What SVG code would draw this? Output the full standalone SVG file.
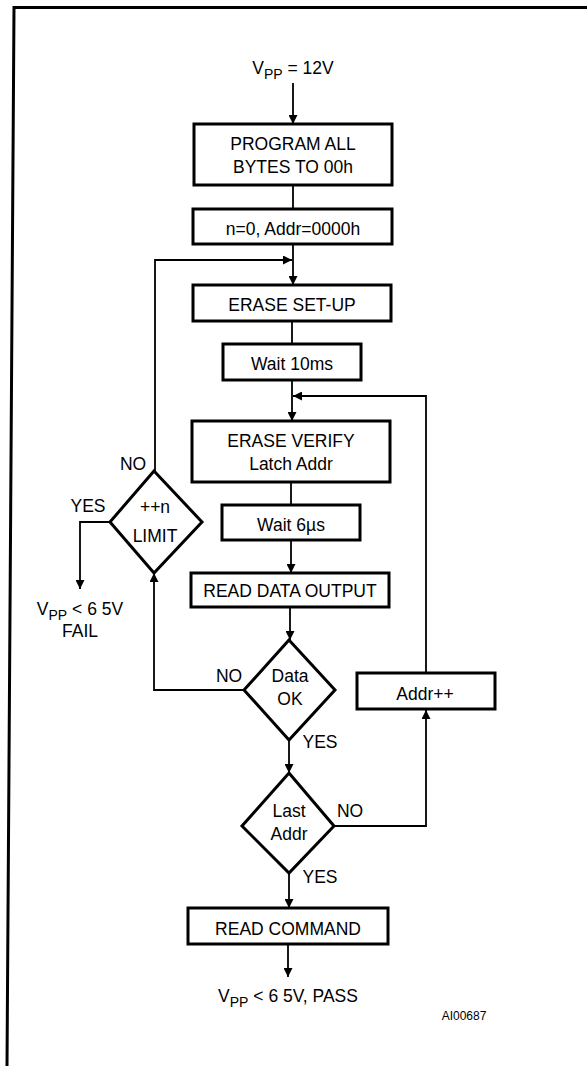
<svg xmlns="http://www.w3.org/2000/svg" width="587" height="1066" viewBox="0 0 587 1066">
<style>
.box{fill:#fff;stroke:#000;stroke-width:3}
.dia{fill:#fff;stroke:#000;stroke-width:3;stroke-linejoin:miter}
.ln{fill:none;stroke:#000;stroke-width:1.8}
text{font-family:"Liberation Sans",Arial,sans-serif;font-size:17.5px;fill:#000}
.c{text-anchor:middle}
.sub{font-size:14px}
.sm{font-size:12px}
</style>
<defs>
<marker id="ah" viewBox="0 0 10 10" refX="10" refY="5" markerWidth="11" markerHeight="9" markerUnits="userSpaceOnUse" orient="auto">
<path d="M0,0 L10,5 L0,10 Z" fill="#000"/>
</marker>
</defs>
<rect width="587" height="1066" fill="#fff"/>
<path d="M587,7.5 L14,7.5 L7,1066" fill="none" stroke="#000" stroke-width="3"/>

<g id="connectors">
<line class="ln" x1="293" y1="83" x2="293" y2="124" marker-end="url(#ah)"/>
<line class="ln" x1="293" y1="185" x2="293" y2="209"/>
<line class="ln" x1="293" y1="244" x2="293" y2="285" marker-end="url(#ah)"/>
<polyline class="ln" points="155,471 155,260 292,260" marker-end="url(#ah)"/>
<line class="ln" x1="292" y1="321" x2="292" y2="344"/>
<line class="ln" x1="292" y1="380" x2="292" y2="421" marker-end="url(#ah)"/>
<polyline class="ln" points="426,673 426,396 293,396" marker-end="url(#ah)"/>
<line class="ln" x1="291" y1="482" x2="291" y2="505"/>
<line class="ln" x1="291" y1="540" x2="291" y2="573" marker-end="url(#ah)"/>
<polyline class="ln" points="110,522 80,522 80,589" marker-end="url(#ah)"/>
<line class="ln" x1="290" y1="607" x2="290" y2="640" marker-end="url(#ah)"/>
<polyline class="ln" points="244,690 154,690 154,573" marker-end="url(#ah)"/>
<line class="ln" x1="289" y1="740" x2="289" y2="773" marker-end="url(#ah)"/>
<polyline class="ln" points="334,826 426,826 426,710" marker-end="url(#ah)"/>
<line class="ln" x1="289" y1="873" x2="289" y2="908" marker-end="url(#ah)"/>
<line class="ln" x1="288" y1="944" x2="288" y2="977" marker-end="url(#ah)"/>
</g>

<g id="start">
<text x="293" y="74" class="c">V<tspan class="sub" dy="5">PP</tspan><tspan dy="-5"> = 12V</tspan></text>
</g>

<g id="program-all">
<rect class="box" x="194" y="124" width="198" height="61"/>
<text x="293" y="150" class="c">PROGRAM ALL</text>
<text x="293" y="173" class="c">BYTES TO 00h</text>
</g>

<g id="init">
<rect class="box" x="193" y="209" width="199" height="35"/>
<text x="293" y="235" class="c">n=0, Addr=0000h</text>
</g>

<g id="erase-setup">
<rect class="box" x="193" y="285" width="198" height="36"/>
<text x="292" y="311" class="c">ERASE SET-UP</text>
</g>

<g id="wait10">
<rect class="box" x="223" y="344" width="138" height="36"/>
<text x="292" y="370" class="c">Wait 10ms</text>
</g>

<g id="erase-verify">
<rect class="box" x="192" y="421" width="198" height="61"/>
<text x="291" y="447" class="c">ERASE VERIFY</text>
<text x="291" y="470" class="c">Latch Addr</text>
</g>

<g id="wait6">
<rect class="box" x="222" y="505" width="138" height="35"/>
<text x="291" y="531" class="c">Wait 6µs</text>
</g>

<g id="limit">
<polygon class="dia" points="154,471 202,522 154,573 110,522"/>
<text x="155" y="513" class="c">++n</text>
<text x="155" y="542" class="c">LIMIT</text>
<text x="133" y="470" class="c">NO</text>
<text x="88" y="512" class="c">YES</text>
</g>

<g id="fail">
<text x="80" y="615" class="c">V<tspan class="sub" dy="5">PP</tspan><tspan dy="-5"> &lt; 6 5V</tspan></text>
<text x="80" y="637" class="c">FAIL</text>
</g>

<g id="read-data">
<rect class="box" x="191" y="573" width="198" height="34"/>
<text x="290" y="597" class="c">READ DATA OUTPUT</text>
</g>

<g id="data-ok">
<polygon class="dia" points="289,640 335,690 289,740 244,690"/>
<text x="290" y="682" class="c">Data</text>
<text x="290" y="705" class="c">OK</text>
<text x="229" y="682" class="c">NO</text>
<text x="320" y="748" class="c">YES</text>
</g>

<g id="addr-inc">
<rect class="box" x="357" y="673" width="138" height="36"/>
<text x="425" y="700" class="c">Addr++</text>
</g>

<g id="last-addr">
<polygon class="dia" points="289,773 334,826 289,873 242,826"/>
<text x="289" y="817" class="c">Last</text>
<text x="289" y="840" class="c">Addr</text>
<text x="350" y="817" class="c">NO</text>
<text x="320" y="883" class="c">YES</text>
</g>

<g id="read-command">
<rect class="box" x="188" y="908" width="200" height="36"/>
<text x="288" y="935" class="c">READ COMMAND</text>
</g>

<g id="pass">
<text x="288" y="1002" class="c">V<tspan class="sub" dy="5">PP</tspan><tspan dy="-5"> &lt; 6 5V, PASS</tspan></text>
</g>

<g id="ref">
<text x="464" y="1020" class="c sm">AI00687</text>
</g>
</svg>
